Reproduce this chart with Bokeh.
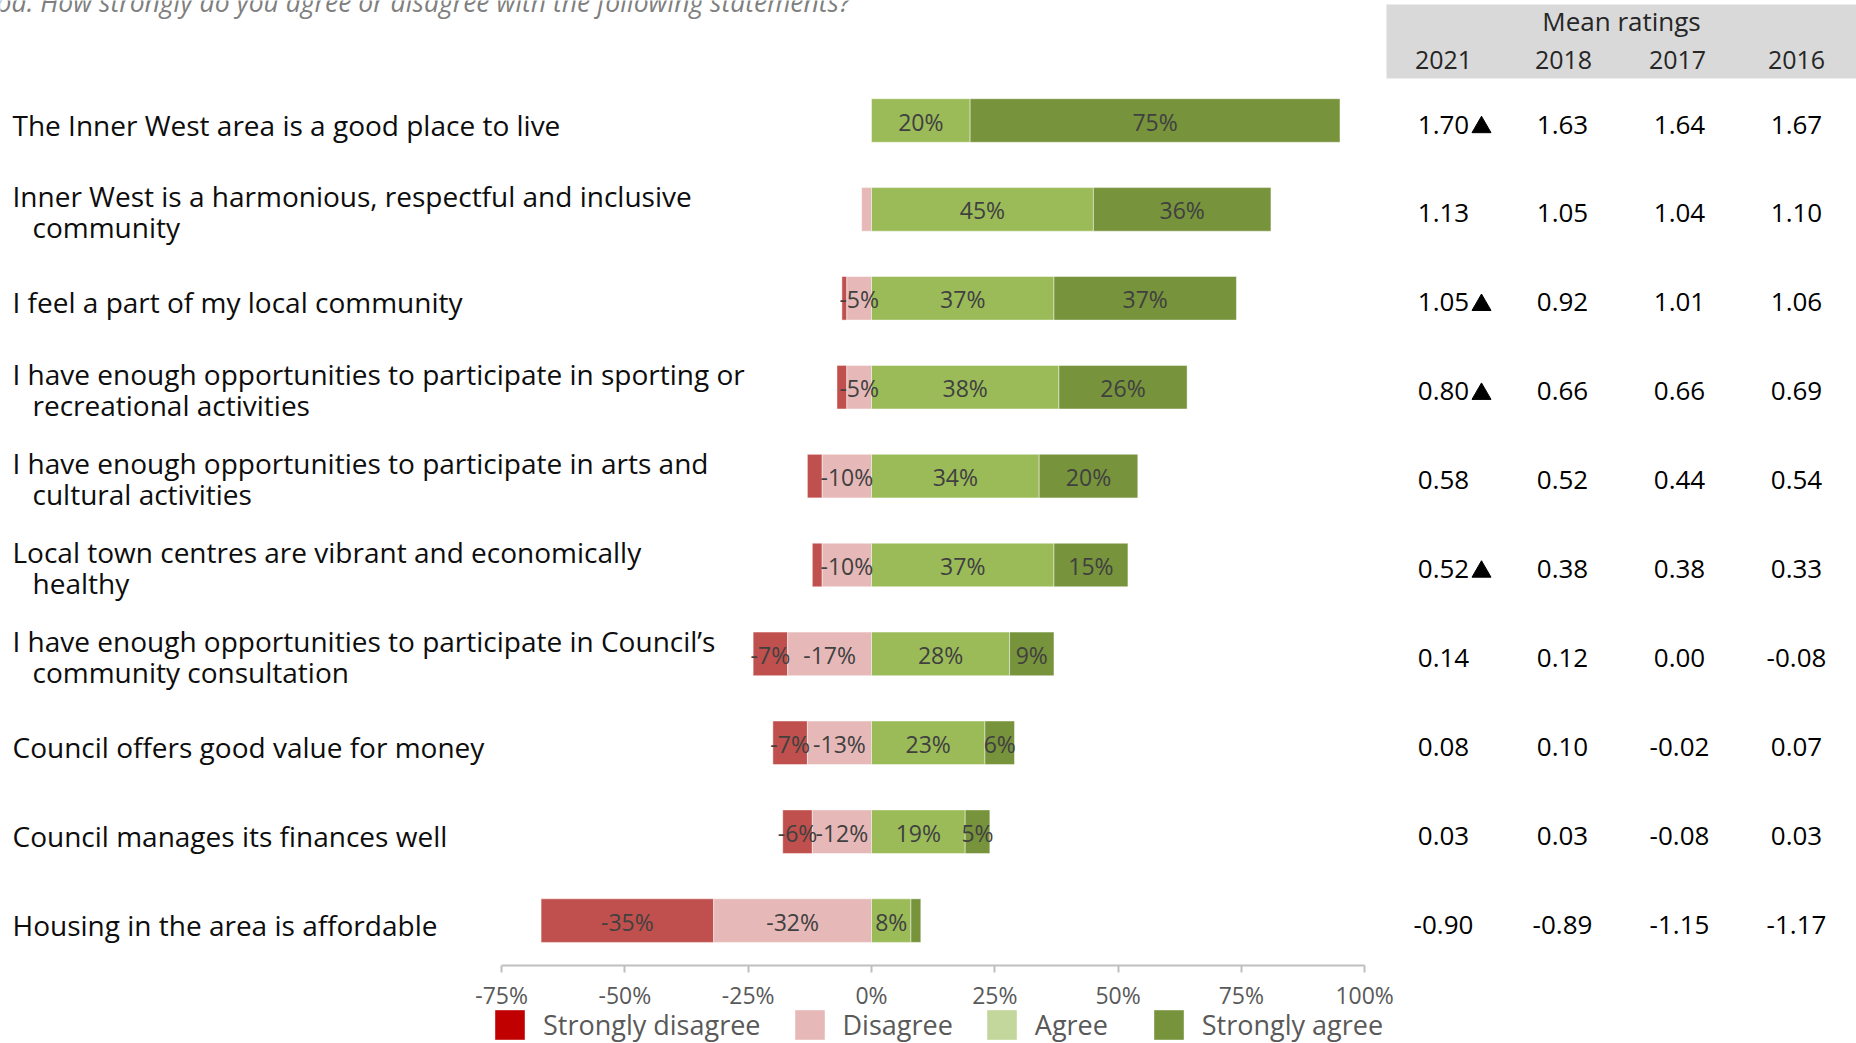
import numpy as np
from bokeh.plotting import figure
from bokeh.models import (ColumnDataSource, Range1d, LinearAxis, FixedTicker,
                          PrintfTickFormatter, Legend, LegendItem)
from bokeh.core.properties import value
from bokeh.embed import file_html
from bokeh.resources import INLINE

# ---------------- data ----------------
subtitle = "od. How strongly do you agree or disagree with the following statements?"
statements = [
    ["The Inner West area is a good place to live"],
    ["Inner West is a harmonious, respectful and inclusive", "community"],
    ["I feel a part of my local community"],
    ["I have enough opportunities to participate in sporting or", "recreational activities"],
    ["I have enough opportunities to participate in arts and", "cultural activities"],
    ["Local town centres are vibrant and economically", "healthy"],
    ["I have enough opportunities to participate in Council\u2019s", "community consultation"],
    ["Council offers good value for money"],
    ["Council manages its finances well"],
    ["Housing in the area is affordable"],
]
strongly_disagree = [0, 0, 1, 2, 3, 2, 7, 7, 6, 35]
disagree = [0, 2, 5, 5, 10, 10, 17, 13, 12, 32]
agree = [20, 45, 37, 38, 34, 37, 28, 23, 19, 8]
strongly_agree = [75, 36, 37, 26, 20, 15, 9, 6, 5, 2]

years = ["2021", "2018", "2017", "2016"]
mean_2021 = [1.70, 1.13, 1.05, 0.80, 0.58, 0.52, 0.14, 0.08, 0.03, -0.90]
mean_2018 = [1.63, 1.05, 0.92, 0.66, 0.52, 0.38, 0.12, 0.10, 0.03, -0.89]
mean_2017 = [1.64, 1.04, 1.01, 0.66, 0.44, 0.38, 0.00, -0.02, -0.08, -1.15]
mean_2016 = [1.67, 1.10, 1.06, 0.69, 0.54, 0.33, -0.08, 0.07, 0.03, -1.17]
sig_up_2021 = [True, False, True, True, False, True, False, False, False, False]

tick_values = [-75, -50, -25, 0, 25, 50, 75, 100]
legend_labels = ["Strongly disagree", "Disagree", "Agree", "Strongly agree"]

# ---------------- styling ----------------
FONT = "Open Sans"
BAR_COLORS = ["#C0504D", "#E6B9B8", "#9BBB59", "#77933C"]
LEGEND_COLORS = ["#C00000", "#E6B9B8", "#C3D69B", "#77933C"]

W, H = 1856, 1043
ZERO_PX = 871.0
PX_PER_PCT = 863.0 / 175.0
ROW0_PX = 120.0
ROW_PX = 88.9


def dx(px):
    return (px - ZERO_PX) / PX_PER_PCT


def dy(py):
    return (py - ROW0_PX) / ROW_PX


def off(py):
    return py / ROW_PX


p = figure(width=W, height=H,
           x_range=Range1d(dx(0), dx(W)),
           y_range=Range1d(dy(H), dy(0)),
           x_axis_location=None, y_axis_location=None,
           output_backend="svg", toolbar_location=None, min_border=0)
p.outline_line_color = None
p.background_fill_color = "white"
p.border_fill_color = "white"
p.xgrid.grid_line_color = None
p.ygrid.grid_line_color = None

n = len(statements)
rows = np.arange(n)
sd = np.array(strongly_disagree)
d = np.array(disagree)
a = np.array(agree)
sa = np.array(strongly_agree)

src = ColumnDataSource(dict(
    y=rows,
    sd_l=-(sd + d), sd_r=-d,
    d_l=-d, d_r=np.zeros(n),
    a_l=np.zeros(n), a_r=a,
    sa_l=a, sa_r=a + sa,
))
for (l, r), col in zip([("sd_l", "sd_r"), ("d_l", "d_r"), ("a_l", "a_r"), ("sa_l", "sa_r")], BAR_COLORS):
    p.hbar(y="y", left=l, right=r, height=0.49, source=src,
           fill_color=col, line_color="white", line_alpha=0.45, line_width=1)

# segment labels
lx, ly, lt = [], [], []
for i in range(n):
    segs = [(-(sd[i] + d[i]), -d[i], sd[i], True), (-d[i], 0, d[i], True),
            (0, a[i], a[i], False), (a[i], a[i] + sa[i], sa[i], False)]
    for left, right, v, neg in segs:
        if v >= 5:
            lx.append((left + right) / 2)
            ly.append(i + off(1))
            lt.append(("-" if neg else "") + f"{v}%")
p.text(x=lx, y=ly, text=lt, text_align="center", text_baseline="middle",
       text_font=value(FONT), text_font_size="23px", text_color="#404040")

# statement labels
tx, ty, tt = [], [], []
for i, lines in enumerate(statements):
    if len(lines) == 1:
        tx.append(dx(12)); ty.append(i + off(4)); tt.append(lines[0])
    else:
        tx.append(dx(12)); ty.append(i + off(-13)); tt.append(lines[0])
        tx.append(dx(32)); ty.append(i + off(18)); tt.append(lines[1])
p.text(x=tx, y=ty, text=tt, text_align="left", text_baseline="middle",
       text_font=value(FONT), text_font_size="28px", text_color="#0D0D0D")

# subtitle (clipped at top)
p.text(x=[dx(-4)], y=[dy(1)], text=[subtitle], text_align="left", text_baseline="middle",
       text_font=value(FONT), text_font_style="italic", text_font_size="26.5px",
       text_color="#7F7F7F")

# mean ratings table
p.quad(left=[dx(1386)], right=[dx(W + 20)], top=[dy(4)], bottom=[dy(78)],
       fill_color="#D9D9D9", line_color=None)
col_px = [1443, 1562, 1679, 1796]
head_px = [1443, 1563, 1677, 1796]
p.text(x=[dx(1621)], y=[dy(20)], text=["Mean ratings"], text_align="center",
       text_baseline="middle", text_font=value(FONT), text_font_size="26px",
       text_color="#262626")
p.text(x=[dx(c) for c in head_px], y=[dy(59)] * 4, text=years, text_align="center",
       text_baseline="middle", text_font=value(FONT), text_font_size="25px",
       text_color="#262626")
for c, vals in zip(col_px, [mean_2021, mean_2018, mean_2017, mean_2016]):
    p.text(x=[dx(c)] * n, y=rows + off(4), text=[f"{v:.2f}" for v in vals],
           text_align="center", text_baseline="middle", text_font=value(FONT),
           text_font_size="26px", text_color="#000000")
flag_rows = rows[np.array(sig_up_2021)]
p.scatter(x=[dx(1481)] * len(flag_rows), y=flag_rows + off(6.7), marker="triangle",
          size=19, fill_color="black", line_color="black")

# x axis
axis_y = dy(965)
p.segment(x0=[tick_values[0]], x1=[tick_values[-1]], y0=[axis_y], y1=[axis_y],
          line_color="#BFBFBF", line_width=2)
ax = LinearAxis(fixed_location=axis_y, ticker=FixedTicker(ticks=tick_values),
                formatter=PrintfTickFormatter(format="%d%%"))
ax.axis_line_color = None
ax.major_tick_line_color = "#BFBFBF"
ax.major_tick_line_width = 2
ax.major_tick_out = 7
ax.major_tick_in = 0
ax.minor_tick_line_color = None
ax.major_label_text_font = FONT
ax.major_label_text_font_size = "23px"
ax.major_label_text_color = "#595959"
ax.major_label_standoff = 6
p.add_layout(ax, "below")

# legend (hidden proxy renderers carry the legend colours)
items = []
for lab, col in zip(legend_labels, LEGEND_COLORS):
    r = p.hbar(y=[-100], left=[-1000], right=[-999], height=0.5,
               fill_color=col, line_color=None, visible=False)
    items.append(LegendItem(label=lab, renderers=[r]))
legend = Legend(items=items, orientation="horizontal", location=(491, 0),
                glyph_width=37, glyph_height=37, label_standoff=15, spacing=30,
                label_width=85, padding=0, margin=0, border_line_color=None,
                background_fill_alpha=0, label_text_font=FONT,
                label_text_font_size="27px", label_text_color="#595959")
p.add_layout(legend)

open("out.html", "w").write(file_html(p, INLINE))
